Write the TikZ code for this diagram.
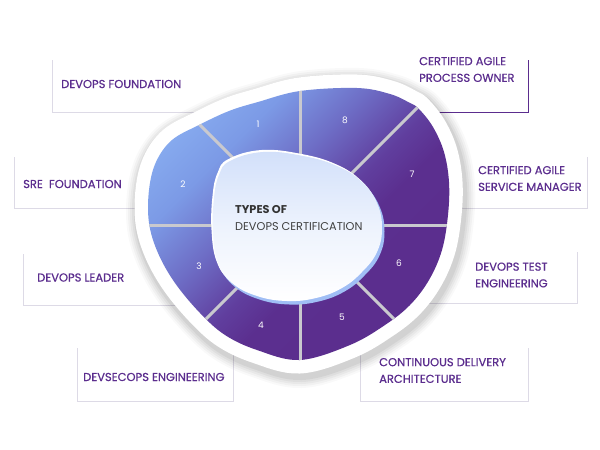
\documentclass[tikz,border=0pt]{standalone}
\usepackage{fontspec}
\setmainfont{Poppins}
\newfontfamily\labfont[FakeBold=0.6]{Poppins}
\definecolor{txtpurple}{HTML}{5B2D8E}
\definecolor{boxgray}{HTML}{DDDAE6}
\definecolor{divgray}{HTML}{C9C9CE}
\definecolor{blobblue}{HTML}{A0BEF5}
\definecolor{blobtop}{HTML}{D2E0FA}
\definecolor{cA}{HTML}{88ADF0}
\definecolor{cB}{HTML}{7C9AE6}
\definecolor{cC}{HTML}{6E6EC6}
\definecolor{cD}{HTML}{603E9E}
\definecolor{cE}{HTML}{5B2F8F}
\definecolor{cF}{HTML}{5A2B8B}
\pgfdeclarehorizontalshading{ringshade}{100bp}{color(0bp)=(cA); color(22bp)=(cA); color(32bp)=(cB); color(42bp)=(cC); color(52bp)=(cD); color(58bp)=(cE); color(100bp)=(cF)}
\def\ringpath{plot[smooth cycle,tension=0.6] coordinates {(300,91) (357,88) (390,94) (410,103) (419,109) (433,127) (444,152) (449,182) (448,215) (442,250) (429,280) (410,305) (385,325) (350,345) (300,360) (257,350) (225,335) (200,313) (175,283) (158,253) (149,223) (149,190) (156,162) (172,140) (199,125) (229,111) (258,102)}}
\def\innerpath{plot[smooth cycle,tension=0.7] coordinates {(230,161) (263,152) (303,156) (337,166) (362,182) (377,203) (382,228) (377,252) (362,272) (342,288) (316,298) (287,301) (257,296) (232,283) (218,263) (213,232) (214,198) (219,175)}}
\tikzset{
  boxline/.style={boxgray, line width=1pt},
  ownerline/.style={txtpurple, line width=1pt},
  divider/.style={divgray, line width=3pt},
  lab/.style={anchor=west, inner sep=0pt, text=txtpurple, font=\labfont\fontsize{11.5}{16.7}\selectfont, align=left},
  num/.style={text=white, inner sep=0pt, font=\fontsize{9}{10}\selectfont},
}
\begin{document}
\begin{tikzpicture}[x=1pt,y=-1pt]
\useasboundingbox (0,0) rectangle (600,450);
\fill[white] (0,0) rectangle (600,450);
% label box lines
\draw[boxline] (52,60) |- (220,112);
\draw[boxline] (14.5,157) |- (200,208.5);
\draw[boxline] (23.5,254) |- (220,305.5);
\draw[boxline] (77.5,348) |- (233.5,401) -- (233.5,330);
\draw[ownerline] (528.5,60) |- (400,112);
\draw[boxline] (587.5,157) |- (400,208.5);
\draw[boxline] (577.5,252) |- (400,303.5);
\draw[boxline] (360,330) |- (528.5,401) -- (528.5,348);
% shadow and white rim
\foreach \w/\o in {48/0.025, 44/0.03, 40/0.035, 36/0.04, 32/0.05}{
  \draw[black, opacity=\o, line width=\w pt, line join=round, shift={(2,4)}] \ringpath;
}
\fill[white] \ringpath;
\draw[white, line width=27pt, line join=round] \ringpath;
% ring
\shade[shading=ringshade, shading angle=-45] \ringpath;
\begin{scope}
  \clip \ringpath;
  \draw[divider] (300,225) -- (300,40);
  \draw[divider] (300,225) -- (460,65);
  \draw[divider] (300,225) -- (480,225);
  \draw[divider] (300,225) -- (460,385);
  \draw[divider] (300,225) -- (300,400);
  \draw[divider] (300,225) -- (140,385);
  \draw[divider] (300,225) -- (120,225);
  \draw[divider] (300,225) -- (140,65);
\end{scope}
% inner blob
\begin{scope}[shift={(-1.5,-2)}]
  \fill[white] \innerpath;
\end{scope}
\begin{scope}[shift={(2.5,3.5)}]
  \fill[blobblue] \innerpath;
\end{scope}
\shade[top color=blobtop, bottom color=white, middle color=blobtop!40!white] \innerpath;
% numbers
\node[num] (n1) at (258,124) {1};
\node[num] (n2) at (183,184) {2};
\node[num] (n3) at (199,266) {3};
\node[num] (n4) at (261,325) {4};
\node[num] (n5) at (342,317) {5};
\node[num] (n6) at (399,263) {6};
\node[num] (n7) at (412,174) {7};
\node[num] (n8) at (345,120) {8};
% centre text
\node[anchor=west, inner sep=0pt, text=black!80, font=\bfseries\fontsize{11.3}{12}\selectfont] (ct1) at (235,210) {TYPES OF};
\node[anchor=west, inner sep=0pt, text=black!75, font=\fontsize{11.3}{12}\selectfont] (ct2) at (235,227) {DEVOPS CERTIFICATION};
% labels
\node[lab] (l1) at (61,84) {DEVOPS FOUNDATION};
\node[lab] (l2) at (23,184) {SRE\ \ FOUNDATION};
\node[lab] (l3) at (37,277.5) {DEVOPS LEADER};
\node[lab] (l4) at (83,377) {DEVSECOPS ENGINEERING};
\node[lab] (l5) at (419,69.5) {CERTIFIED AGILE\\PROCESS OWNER};
\node[lab] (l6) at (478,178.5) {CERTIFIED AGILE\\SERVICE MANAGER};
\node[lab] (l7) at (475,275) {DEVOPS TEST\\ENGINEERING};
\node[lab] (l8) at (379,370.5) {CONTINUOUS DELIVERY\\ARCHITECTURE};
\end{tikzpicture}
\end{document}
